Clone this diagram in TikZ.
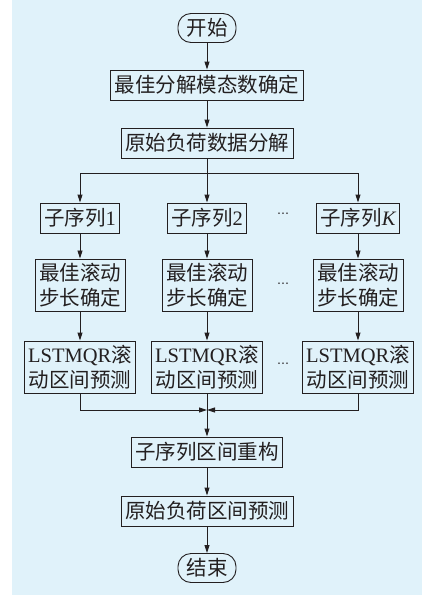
\documentclass[tikz,border=0pt]{standalone}
\usepackage{fontspec}
\setmainfont{Liberation Serif}
\newfontfamily\cjk{Noto Sans CJK SC}
\newfontfamily\sym{DejaVu Sans}
\usetikzlibrary{arrows.meta}
\definecolor{bgblue}{RGB}{224,242,250}
\definecolor{ink}{RGB}{35,31,32}
\newcommand\lat[1]{{\rmfamily #1}}

\begin{document}
\begin{tikzpicture}[x=1pt,y=-1pt]
  \tikzstyle{every node}=[font=\cjk\fontsize{20.5}{25}\selectfont,text=ink]
  \tikzstyle{box}=[draw=ink,line width=0.9pt,inner xsep=4pt,inner ysep=4pt,minimum height=30pt,align=center]
  \tikzstyle{term}=[box,rounded corners=13pt,minimum width=58pt,minimum height=29pt]
  \tikzstyle{flow}=[draw=ink,line width=0.9pt,-{Triangle[length=8pt,width=5pt]}]
  \tikzstyle{dots}=[font=\sym\fontsize{12}{12}\selectfont]
  \useasboundingbox (0,0) rectangle (422,595);
  \fill[bgblue] (12,0) rectangle (422,595);
  % main line
  \node[term] (start) at (207,28)  {开始};
  \node[box]  (modes) at (207,85)  {最佳分解模态数确定};
  \node[box]  (dec)   at (207,143) {原始负荷数据分解};
  % columns
  \node[box] (s1) at (80,218)  {子序列\lat{1}};
  \node[box] (s2) at (207,218) {子序列\lat{2}};
  \node[box] (sK) at (358,218) {子序列\lat{\itshape K}};
  \node[box] (t1) at (80,285)  {最佳滚动\\步长确定};
  \node[box] (t2) at (207,285) {最佳滚动\\步长确定};
  \node[box] (tK) at (358,285) {最佳滚动\\步长确定};
  \node[box] (l1) at (80,367)  {\lat{LSTMQR}滚\\动区间预测};
  \node[box] (l2) at (207,367) {\lat{LSTMQR}滚\\动区间预测};
  \node[box] (lK) at (358,367) {\lat{LSTMQR}滚\\动区间预测};
  \node[dots] (d1) at (283,215) {⋯};
  \node[dots] (d2) at (283,285) {⋯};
  \node[dots] (d3) at (283,365) {⋯};
  % end part
  \node[box]  (rec)   at (207,452) {子序列区间重构};
  \node[box]  (pred)  at (207,511) {原始负荷区间预测};
  \node[term] (stop)  at (207,568) {结束};
  \coordinate (split) at (207,173);
  \coordinate (merge) at (207,410);
  \draw[flow] (start) -- (modes);
  \draw[flow] (modes) -- (dec);
  \draw[flow] (dec) -- (s2);
  \draw[flow] (split) -| (s1);
  \draw[flow] (split) -| (sK);
  \draw[flow] (s1) -- (t1);
  \draw[flow] (s2) -- (t2);
  \draw[flow] (sK) -- (tK);
  \draw[flow] (t1) -- (l1);
  \draw[flow] (t2) -- (l2);
  \draw[flow] (tK) -- (lK);
  \draw[flow] (l1) |- (merge);
  \draw[flow] (lK) |- (merge);
  \draw[flow] (l2) -- (rec);
  \draw[flow] (rec) -- (pred);
  \draw[flow] (pred) -- (stop);
\end{tikzpicture}
\end{document}
